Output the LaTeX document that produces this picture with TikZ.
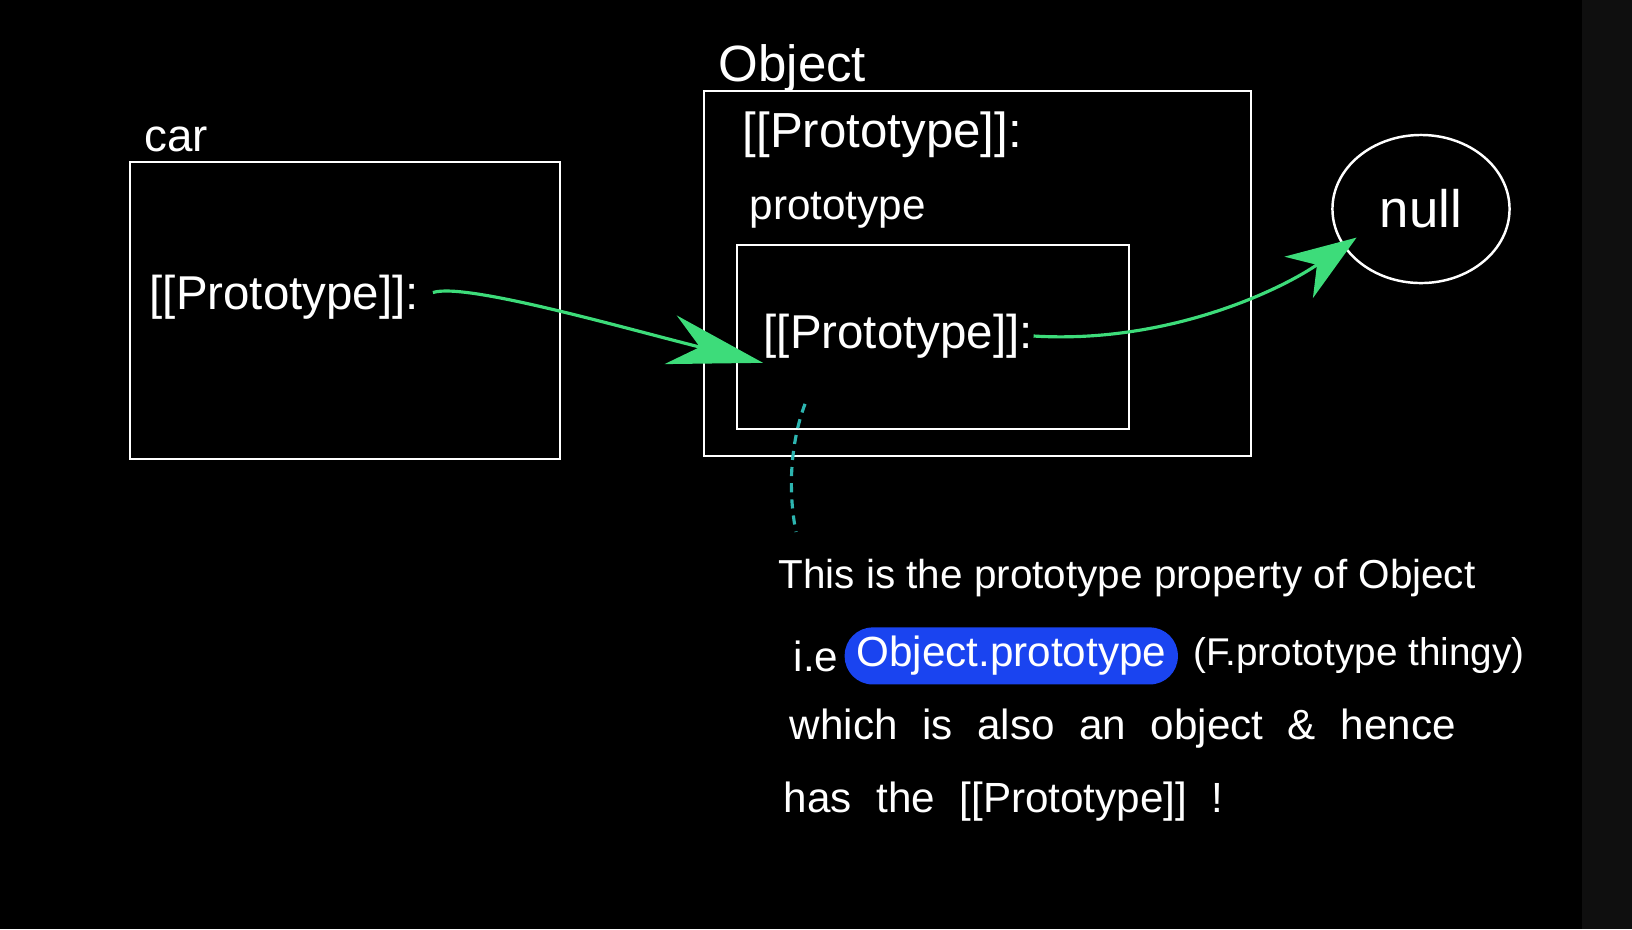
\documentclass[tikz,border=0pt]{standalone}
\usepackage{fontspec}
\setmainfont{Liberation Sans}
\usetikzlibrary{positioning,arrows.meta,shapes.geometric}
\definecolor{boardBlack}{HTML}{000000}
\definecolor{boardEdge}{HTML}{0F0F0F}
\definecolor{inkGreen}{HTML}{3DDC7A}
\definecolor{inkTeal}{HTML}{2DB5B0}
\definecolor{inkBlue}{HTML}{1A44F0}
\tikzset{
  box/.style={draw=white, line width=0.7pt, inner sep=0pt},
  handText/.style={text=white, inner sep=0pt, font=\fontsize{13.5}{16}\selectfont},
  noteText/.style={text=white, inner sep=0pt, anchor=base west, font=\fontsize{12}{14}\selectfont},
  wideNote/.style={noteText, font={\fontsize{12}{14}\selectfont\spaceskip=7pt\relax}},
  pill/.style={fill=inkBlue, rounded corners=0.28cm, minimum width=3.33cm, minimum height=0.57cm, inner sep=0pt, text=white, font=\fontsize{12}{14}\selectfont},
  greenArrow/.style={-{Stealth[length=9.5mm, width=5mm, inset=3mm]}, draw=inkGreen, line width=0.9pt},
  tealDash/.style={draw=inkTeal, line width=0.9pt, dash pattern=on 2.6pt off 2pt}
}
\begin{document}
\begin{tikzpicture}[x=0.01cm, y=-0.01cm]
  \useasboundingbox (0,0) rectangle (1632,929);
  \fill[boardBlack] (0,0) rectangle (1582,929);
  \fill[boardEdge] (1582,0) rectangle (1632,929);

  % boxes
  \node[box, minimum width=4.30cm, minimum height=2.97cm] (carBox) at (345,310.5) {};
  \node[box, minimum width=5.47cm, minimum height=3.65cm] (objBox) at (977.5,273.5) {};
  \node[box, minimum width=3.92cm, minimum height=1.84cm] (protoBox) at (933,337) {};

  % labels
  \node[handText, anchor=base west, font=\fontsize{13}{15}\selectfont] (carLabel) at (144,151) {car};
  \node[handText, anchor=base west, font=\fontsize{14.5}{17}\selectfont] (objLabel) at (718,81) {Object};
  \node[handText, anchor=west, font=\fontsize{14}{16}\selectfont] (objProto) at (742,135) {[[Prototype]]:};
  \node[handText, anchor=west, font=\fontsize{12}{14}\selectfont] (protoLabel) at (749,210) {prototype};
  \node[handText, anchor=west] (carProto) at (149,297) {[[Prototype]]:};
  \node[handText, anchor=west] (innerProto) at (763,336) {[[Prototype]]:};
  \node[handText, draw=white, line width=0.7pt, ellipse, minimum width=1.77cm, minimum height=1.48cm, font=\fontsize{15}{17}\selectfont] (null) at (1421,209) {null};

  % note
  \node[noteText, font=\fontsize{11.5}{14}\selectfont] (note1) at (778,588) {This is the prototype property of Object};
  \node[noteText] (noteIe) at (793,671) {i.e};
  \node[pill, right=0.05cm of noteIe] (pillObj) {Object.prototype};
  \node[noteText, right=0.14cm of pillObj, font=\fontsize{11}{14}\selectfont] (noteParen) {(F.prototype thingy)};
  \node[wideNote] (note3) at (789,739) {which is also an object \& hence};
  \node[wideNote] (note4) at (783,812) {has the [[Prototype]] !};

  % links
  \draw[greenArrow, shorten <=4pt] (carProto.east) .. controls +(45,-15) and +(-140,-35) .. ([yshift=-0.04cm]innerProto.south west);
  \draw[greenArrow, -{Stealth[length=7mm, width=5mm, inset=2.2mm]}] (innerProto.east) .. controls +(130,8) and +(-80,55) .. ([shift={(14,-8)}]null.205);
  \draw[tealDash] ([xshift=0.42cm, yshift=-0.45cm]innerProto.south west) .. controls +(-15,40) and +(-8,-40) .. ([xshift=0.18cm, yshift=0.26cm]note1.north west);
\end{tikzpicture}
\end{document}
